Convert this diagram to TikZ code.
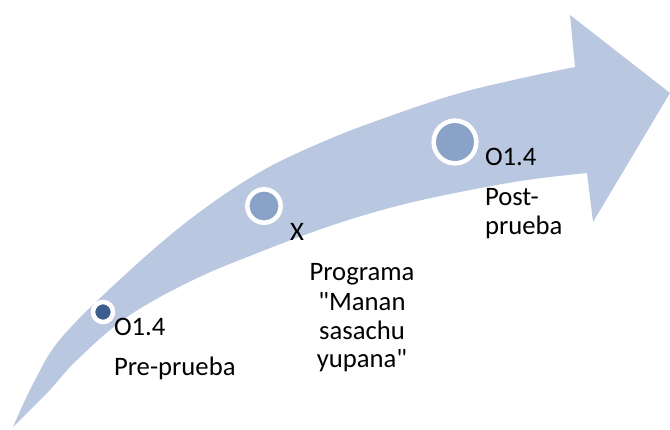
\documentclass[tikz,border=0pt]{standalone}
\usepackage{fontspec}
\setmainfont{Carlito}
\definecolor{band}{HTML}{B9C7E0}
\definecolor{dotmid}{HTML}{8AA2C8}
\definecolor{dotdark}{HTML}{3B5E8E}
\begin{document}
\begin{tikzpicture}[x=0.75pt,y=-0.75pt,
  lbl/.style={inner sep=0pt,outer sep=0pt,anchor=base west,font=\fontsize{20pt}{22pt}\selectfont,text=black},
  lblc/.style={lbl,anchor=base},
  ring/.style={circle,draw=white,line width=3.4pt,inner sep=0pt}]
\useasboundingbox (0,0) rectangle (670,429);
% big curved arrow
\fill[band] plot[smooth,tension=0.6] coordinates {(13,427) (34,382) (62,337) (127,273) (193,217) (260,172) (327,140) (393,115) (460,93) (527,77) (575,67)}
  -- (570,15) -- (670,93) -- (593,222)
  -- plot[smooth,tension=0.6] coordinates {(587,173) (527,180) (460,192) (393,207) (327,227) (260,252) (193,280) (127,317) (77,360) (48,392) (13,427)} -- cycle;
% markers
\node[ring,fill=dotdark,minimum size=15pt] (c1) at (103,312) {};
\node[ring,fill=dotmid,minimum size=25pt] (c2) at (264,206) {};
\node[ring,fill=dotmid,minimum size=32pt] (c3) at (455,142) {};
% labels
\node[lbl] (t1a) at (114,335) {O1.4};
\node[lbl] (t1b) at (114,375) {Pre-prueba};
\node[lblc] (t2x) at (297,240) {X};
\node[lblc] (t2a) at (362,280) {Programa};
\node[lblc] (t2b) at (362,310) {\textquotedbl Manan};
\node[lblc] (t2c) at (362,339) {sasachu};
\node[lblc] (t2d) at (362,367) {yupana\textquotedbl};
\node[lbl] (t3a) at (485,165) {O1.4};
\node[lbl] (t3b) at (485,205) {Post-};
\node[lbl] (t3c) at (485,234) {prueba};
\end{tikzpicture}
\end{document}
